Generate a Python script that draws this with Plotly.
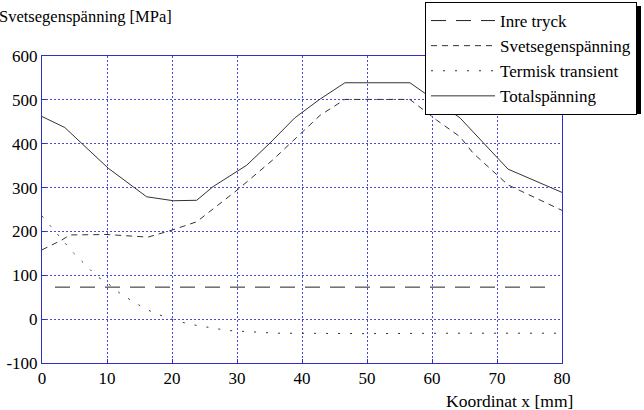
import plotly.graph_objects as go

# Data
inre_x = [2, 78]
inre_y = [73, 73]

svets_x = [0, 3, 4.3, 10, 16.3, 20, 23.8, 30, 35.5, 42.8, 46.6, 56.6, 60.7, 64.3, 66.3, 71.7, 80]
svets_y = [158, 180, 192, 193, 187, 203, 222, 294, 363, 465, 501, 501, 454, 416, 379, 306, 248]

term_x = [0, 1.6, 4.9, 6.6, 8.4, 10.1, 12, 14, 16, 17.6, 19.7, 21.2, 23.3, 28.6, 36, 50, 65, 80]
term_y = [235, 207, 150, 125, 98, 82, 59, 40, 23, 12, 2, -6, -13, -26, -32, -33, -32, -32]

total_x = [0, 3.5, 10.2, 16.1, 20.2, 23.8, 26.3, 31.5, 35.1, 38.9, 42.8, 46.6, 56.6, 64.3, 71.7, 80]
total_y = [462, 437, 344, 279, 270, 271, 302, 351, 402, 459, 502, 539, 539, 459, 342, 289]

x_ticks = [0, 10, 20, 30, 40, 50, 60, 70, 80]
y_ticks = [-100, 0, 100, 200, 300, 400, 500, 600]

FONT = "Liberation Serif"
BLUE = "#3030c8"
GRID = "#4848e0"
FS = 17

fig = go.Figure()
fig.add_trace(go.Scatter(x=inre_x, y=inre_y, mode="lines", name="Inre tryck",
                         line=dict(color="#222222", width=1, dash="15px,10px")))
fig.add_trace(go.Scatter(x=svets_x, y=svets_y, mode="lines", name="Svetsegenspänning",
                         line=dict(color="#333333", width=1, dash="6px,5px")))
fig.add_trace(go.Scatter(x=term_x, y=term_y, mode="lines", name="Termisk transient",
                         line=dict(color="#333333", width=1, dash="2px,10px")))
fig.add_trace(go.Scatter(x=total_x, y=total_y, mode="lines", name="Totalspänning",
                         line=dict(color="#333333", width=1)))

L, R, T, B = 42, 82, 56, 47
W, H = 644, 410
pw, ph = W - L - R, H - T - B

def px2x(p):
    return (p - L) / pw

def px2y(p):
    return (H - B - p) / ph

axis_common = dict(
    showgrid=True, gridcolor=GRID, griddash="2px,2px", gridwidth=1,
    showline=True, linecolor=BLUE, linewidth=1, mirror=True,
    ticks="inside", ticklen=4, tickcolor=BLUE, zeroline=False,
    tickfont=dict(family=FONT, size=FS),
)

fig.update_layout(
    width=W, height=H,
    margin=dict(l=L, r=R, t=T, b=B, autoexpand=False),
    paper_bgcolor="white", plot_bgcolor="white",
    font=dict(family=FONT, size=FS, color="black"),
    showlegend=True,
    legend=dict(
        x=px2x(425), y=px2y(2), xanchor="left", yanchor="top",
        bgcolor="white", bordercolor="black", borderwidth=1,
        font=dict(family=FONT, size=17, color="black"),
        itemwidth=64, tracegroupgap=0,
    ),
    xaxis=dict(range=[0, 80], tickvals=x_ticks, ticktext=[str(v) for v in x_ticks], **axis_common),
    yaxis=dict(range=[-100, 600], tickvals=y_ticks, ticktext=[str(v) for v in y_ticks], **axis_common),
    shapes=[dict(type="rect", xref="paper", yref="paper",
                 x0=px2x(429), x1=px2x(641), y0=px2y(114), y1=px2y(6),
                 fillcolor="black", line=dict(width=0), layer="above")],
    annotations=[
        dict(text="Svetsegenspänning [MPa]", xref="paper", yref="paper",
             x=px2x(-3), y=px2y(17), xanchor="left", yanchor="middle",
             showarrow=False, font=dict(family=FONT, size=16.5)),
        dict(text="Koordinat x [mm]", xref="paper", yref="paper",
             x=px2x(575), y=px2y(401), xanchor="right", yanchor="middle",
             showarrow=False, font=dict(family=FONT, size=17.5)),
    ],
)

fig.write_html("out.html", config={"displayModeBar": False},
               post_script="document.body.style.margin='0';")
